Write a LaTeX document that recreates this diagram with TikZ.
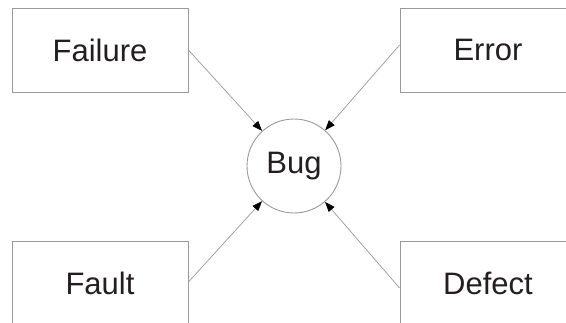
\documentclass[tikz,border=0pt]{standalone}
\usepackage{fontspec}
\setmainfont{Liberation Sans}
\usetikzlibrary{arrows.meta}
\definecolor{edgegray}{HTML}{9A9A9A}
\definecolor{txt}{HTML}{231F20}
\tikzset{
  term/.style={draw=edgegray, line width=0.9pt, minimum width=176pt, minimum height=84pt, inner sep=0pt, text=txt, font=\fontsize{31}{36}\selectfont},
  bugnode/.style={draw=edgegray, line width=0.9pt, circle, minimum size=94pt, inner sep=0pt, text=txt, font=\fontsize{31}{36}\selectfont},
  link/.style={draw=edgegray, line width=0.7pt, -{Triangle[length=10pt,width=7.5pt,color=black]}}
}
\begin{document}
\begin{tikzpicture}[x=1pt,y=-1pt]
\useasboundingbox (0,0) rectangle (566,322);
\clip (0,0) rectangle (566,322);
\fill[white] (0,0) rectangle (566,322);
\node[term] (fail) at (100,50) {Failure};
\node[term] (err) at (488,50) {Error};
\node[term] (fault) at (100,283) {Fault};
\node[term] (def) at (488,283) {Defect};
\node[bugnode] (bug) at (294,166) {Bug};
\coordinate (s1) at ([yshift=0pt]fail.east);
\coordinate (s2) at ([yshift=5pt]err.west);
\coordinate (s3) at ([yshift=1pt]fault.east);
\coordinate (s4) at ([yshift=-5pt]def.west);
\draw[link] (s1) -- (bug);
\draw[link] (s2) -- (bug);
\draw[link] (s3) -- (bug);
\draw[link] (s4) -- (bug);
\end{tikzpicture}
\end{document}
